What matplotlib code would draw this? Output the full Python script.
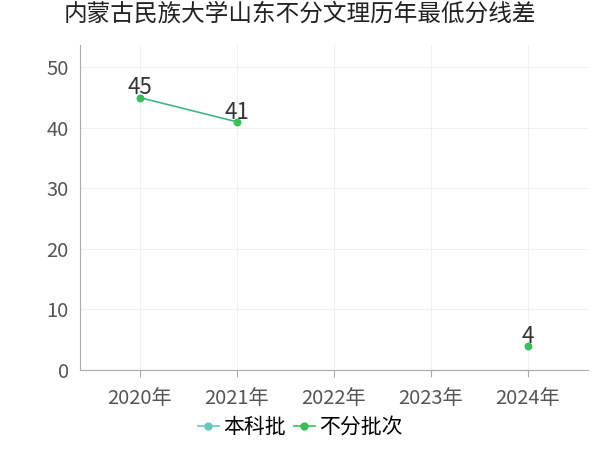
import matplotlib
matplotlib.use('Agg')
import matplotlib.pyplot as plt

plt.rcParams['font.family'] = ['Noto Sans CJK SC', 'DejaVu Sans']
years = ['2020年', '2021年', '2022年', '2023年', '2024年']
s1_name = '本科批'
s1_x = [0, 1]
s1_y = [45, 41]
s2_name = '不分批次'
s2_x = [4]
s2_y = [4]

fig = plt.figure(figsize=(6, 4.5), dpi=100)
ax = fig.add_axes([0.133, 0.178, 0.847, 0.722])
ax.plot(s1_x, s1_y, color='#3cb88a', lw=1.2, zorder=2)
ax.scatter(s1_x, s1_y, color='#3dbd5a', s=22, zorder=3)
ax.scatter(s2_x, s2_y, color='#3dbd5a', s=22, zorder=3)
for x, y in zip(s1_x + s2_x, s1_y + s2_y):
    ax.text(x, y - 0.3, str(y), ha='center', va='bottom', fontsize=16, color='#333333')
ax.set_xlim(-0.62, 4.62)
ax.set_ylim(0, 53.7)
ax.set_yticks([0, 10, 20, 30, 40, 50])
ax.set_xticks(range(len(years)))
ax.set_xticklabels(years)
ax.tick_params(labelsize=14.5, colors='#555555', length=0, pad=8)
ax.tick_params(axis='x', length=5, color='#aaaaaa')
ax.grid(color='#f0f0f0', lw=0.8)
ax.set_axisbelow(True)
for s in ['top', 'right']:
    ax.spines[s].set_visible(False)
for s in ['left', 'bottom']:
    ax.spines[s].set_color('#aaaaaa')
fig.suptitle('内蒙古民族大学山东不分文理历年最低分线差', fontsize=17, y=0.995, color='#222222')
h1, = ax.plot([], [], color='#6cc6c0', marker='o', ms=5, lw=1.2)
h2, = ax.plot([], [], color='#3dbd5a', marker='o', ms=5, lw=1.2)
fig.legend([h1, h2], [s1_name, s2_name], loc='lower center', ncol=2, frameon=False,
           fontsize=15, bbox_to_anchor=(0.5, -0.015), handlelength=1.0, handletextpad=0.2, columnspacing=0.4)
fig.savefig('out.png')
